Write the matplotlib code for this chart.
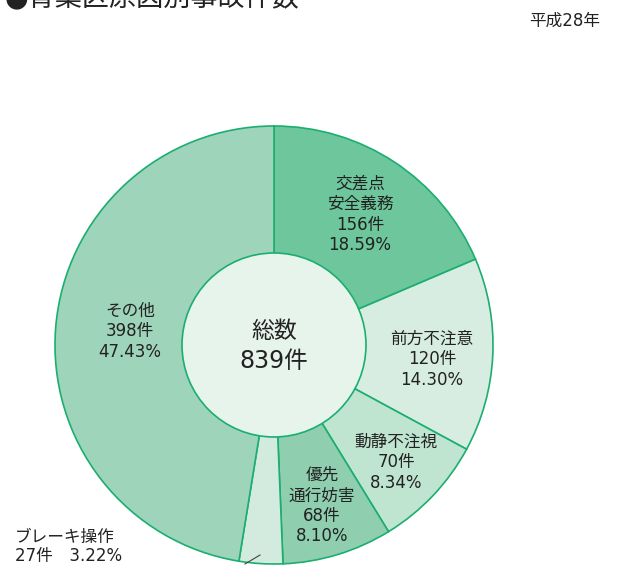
import matplotlib
matplotlib.use('Agg')
import matplotlib.pyplot as plt
from matplotlib.patches import Circle

# wide latin digits first, CJK glyphs from Noto
plt.rcParams['font.family'] = ['DejaVu Sans', 'Noto Sans CJK JP']

# causes, clockwise from the top
causes = ['交差点\n安全義務', '前方不注意', '動静不注視', '優先\n通行妨害', 'ブレーキ操作', 'その他']
counts = [156, 120, 70, 68, 27, 398]
shares = [18.59, 14.30, 8.34, 8.10, 3.22, 47.43]
total = 839
colors = ['#6dc69c', '#d7ede1', '#bfe4d0', '#8fcfb0', '#d3ebdf', '#9ed4b9']
edge = '#1bae70'
ink = '#222222'

W, H = 618, 566
fig = plt.figure(figsize=(W / 100, H / 100), dpi=100)
ax = fig.add_axes([0, 0, 1, 1])

cx, cy, r = 274, H - 345, 219
ax.pie(counts, colors=colors, startangle=90, counterclock=False,
       center=(cx, cy), radius=r, frame=True,
       wedgeprops=dict(edgecolor=edge, linewidth=1.2))
ax.set_xlim(0, W)
ax.set_ylim(0, H)
ax.set_aspect('equal')
ax.axis('off')

ax.add_patch(Circle((cx, cy), 92, facecolor='#e7f4ec', edgecolor=edge, linewidth=1.2, zorder=3))
ax.text(cx, H - 331, '総数', ha='center', va='center', fontsize=16.5, color=ink, zorder=4)
ax.text(cx, H - 361, '%d件' % total, ha='center', va='center', fontsize=17, color=ink, zorder=4)

# label anchors (pixel positions, top of each block)
label_pos = [(360, 175), (432, 330), (396, 433), (322, 466), None, (130, 302)]
for name, n, s, pos in zip(causes, counts, shares, label_pos):
    if pos is None:
        continue
    txt = '%s\n%d件\n%.2f%%' % (name, n, s)
    ax.text(pos[0], H - pos[1], txt, ha='center', va='top', fontsize=12,
            color=ink, linespacing=1.17, zorder=4)

# small slice labelled outside with a leader line
ax.text(15, H - 528, '%s\n%d件　%.2f%%' % (causes[4], counts[4], shares[4]),
        ha='left', va='top', fontsize=12, color=ink, linespacing=1.1)
ax.plot([245, 260], [H - 564, H - 555], color='#444444', linewidth=0.8, zorder=4)

ax.text(4, H - 11, '●青葉区原因別事故件数', ha='left', va='bottom', fontsize=19.5, color=ink)
ax.text(600, H - 21, '平成28年', ha='right', va='center', fontsize=12, color=ink)

fig.savefig('out.png', dpi=100)
